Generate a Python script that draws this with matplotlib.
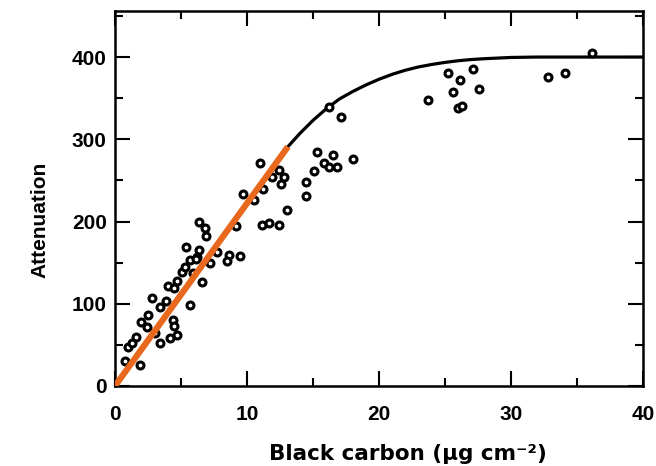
"""
Attenuation vs. black carbon loading: measured points, saturation curve
and the linear part of the calibration.
"""

import matplotlib
matplotlib.use("Agg")
import matplotlib.pyplot as plt
from matplotlib.ticker import MultipleLocator

plt.rcParams["font.family"] = ["Liberation Sans", "DejaVu Sans"]

# measured points (black carbon in ug cm^-2, attenuation)
bc_x = [0.76, 1.9, 1.0, 1.3, 1.6, 2.0, 2.4, 2.5, 2.8, 3.0, 3.4, 3.4, 3.9,
        4.0, 4.5, 4.7, 4.4, 4.5, 4.7, 4.2, 5.7, 6.6, 5.05, 5.3, 5.9, 5.7,
        6.2, 6.1, 7.2, 5.4, 6.4, 7.7, 8.6, 9.5, 8.5, 6.4, 6.8, 6.9, 9.2,
        9.7, 10.5, 11.0, 11.2, 11.9, 12.4, 12.8, 12.6, 11.1, 11.7, 12.4,
        13.0, 14.5, 14.5, 15.1, 15.8, 16.2, 16.8, 15.3, 16.5, 18.05, 16.2,
        17.1, 23.7, 25.2, 26.1, 27.1, 25.6, 27.6, 26.0, 26.3, 32.8, 34.1,
        36.1]
att_y = [30, 26, 48, 52, 60, 78, 72, 86, 107, 64, 52, 96, 103,
         121, 119, 128, 80, 73, 62, 58, 98, 126, 139, 145, 138, 153,
         157, 155, 149, 169, 165, 163, 159, 158, 152, 200, 192, 182, 195,
         234, 226, 271, 240, 254, 263, 254, 246, 196, 198, 196,
         214, 231, 248, 261, 271, 266, 266, 284, 281, 276, 339,
         327, 348, 380, 372, 385, 357, 361, 338, 341, 376, 381,
         405]

# saturation curve
curve_x = [0, 13.1, 14, 15, 16, 17, 18, 19, 20, 21, 22, 23, 24, 25, 26,
           27, 28, 30, 32, 40]
curve_y = [0, 291, 307, 323, 337, 349, 358, 366, 373, 379, 384, 388, 391,
           393.5, 395.5, 397, 398, 399.5, 400, 400]

# linear part
lin_x = [0, 13.1]
lin_y = [0, 291]

fig = plt.figure(figsize=(6.56, 4.66), dpi=100)
ax = fig.add_axes([0.1753, 0.1717, 0.8049, 0.8047])

ax.plot(curve_x, curve_y, color="black", lw=2.3, zorder=2)
ax.plot(bc_x, att_y, linestyle="none", marker="o", ms=5.0, mew=2.2,
        mec="black", mfc="white", zorder=3)
ax.plot(lin_x, lin_y, color="#e8691e", lw=4.5, solid_capstyle="butt",
        zorder=4)

ax.set_xlim(0, 40)
ax.set_ylim(0, 456)
ax.xaxis.set_major_locator(MultipleLocator(10))
ax.xaxis.set_minor_locator(MultipleLocator(5))
ax.yaxis.set_major_locator(MultipleLocator(100))
ax.yaxis.set_minor_locator(MultipleLocator(50))

for side in ax.spines.values():
    side.set_linewidth(1.8)
ax.tick_params(which="both", direction="in", top=True, right=True, width=1.5)
ax.tick_params(which="major", length=11)
ax.tick_params(which="minor", length=6)
ax.tick_params(axis="x", which="major", pad=14, labelsize=15)
ax.tick_params(axis="y", which="major", pad=6, labelsize=15)
for lab in ax.get_xticklabels() + ax.get_yticklabels():
    lab.set_fontweight("bold")

ax.set_xlabel("Black carbon (\u00b5g cm\u207b\u00b2)", fontsize=15.5,
              fontweight="bold", va="top", family=["DejaVu Sans"])
ax.xaxis.set_label_coords(0.555, -0.155)
ax.set_ylabel("Attenuation", fontsize=15, fontweight="bold")
ax.yaxis.set_label_coords(-0.125, 0.443)

fig.savefig("out.png", dpi=100)
